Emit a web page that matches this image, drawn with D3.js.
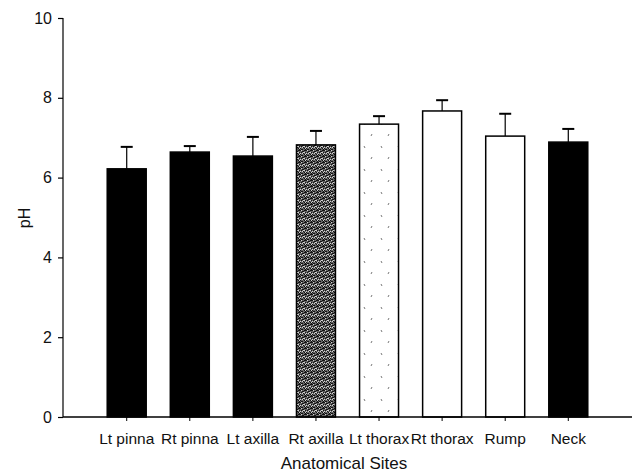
<!DOCTYPE html>
<html>
<head>
<meta charset="utf-8">
<script src="https://cdn.jsdelivr.net/npm/d3@7"></script>
<style>
  html, body { margin: 0; padding: 0; background: #fff; }
  svg { display: block; font-family: "Liberation Sans", Arial, sans-serif; }
</style>
</head>
<body>
<svg id="chart" width="634" height="473"></svg>
<script>
// Skin surface pH by anatomical site (mean with upper error bar)
const categories = ["Lt pinna", "Rt pinna", "Lt axilla", "Rt axilla", "Lt thorax", "Rt thorax", "Rump", "Neck"];
const meanPH = [6.22, 6.64, 6.54, 6.82, 7.34, 7.67, 7.04, 6.89];
const errorPH = [0.55, 0.15, 0.48, 0.35, 0.20, 0.27, 0.56, 0.33];
const yTicks = [0, 2, 4, 6, 8, 10];
const xTitle = "Anatomical Sites";
const yTitle = "pH";

const svg = d3.select("#chart");

// Fill style per bar
const fillStyle = ["url(#solid)", "url(#solid)", "url(#solid)", "url(#stipple)", "url(#speckle)", "#fff", "#fff", "url(#solid)"];

const defs = svg.append("defs");
defs.append("pattern").attr("id", "solid").attr("width", 4).attr("height", 4)
  .attr("patternUnits", "userSpaceOnUse")
  .append("rect").attr("width", 4).attr("height", 4).attr("fill", "#000");

// dense dither for the grey bar
const st = defs.append("pattern").attr("id", "stipple").attr("width", 6).attr("height", 6)
  .attr("patternUnits", "userSpaceOnUse");
st.append("rect").attr("width", 6).attr("height", 6).attr("fill", "#666");
const darkDots = [[0,0],[2,1],[4,0],[1,2],[3,3],[5,2],[0,4],[2,5],[4,4],[5,5],[1,5],[3,1],[5,0]];
const lightDots = [[1,0],[3,2],[5,4],[0,3],[2,3],[4,2]];
st.selectAll("rect.d").data(darkDots).join("rect").attr("class", "d")
  .attr("x", d => d[0]).attr("y", d => d[1]).attr("width", 1).attr("height", 1).attr("fill", "#111");
st.selectAll("rect.l").data(lightDots).join("rect").attr("class", "l")
  .attr("x", d => d[0]).attr("y", d => d[1]).attr("width", 1).attr("height", 1).attr("fill", "#d0d0d0");

// sparse specks for the light bar
const sp = defs.append("pattern").attr("id", "speckle").attr("width", 17).attr("height", 23)
  .attr("patternUnits", "userSpaceOnUse").attr("x", 3).attr("y", 5);
sp.append("rect").attr("width", 17).attr("height", 23).attr("fill", "#fff");
sp.append("path").attr("d", "M4,3 l1,2 M12,14 l-1,2").attr("stroke", "#555").attr("stroke-width", 0.8);

const x = d3.scaleBand().domain(categories).range([63, 632]).paddingInner(0.382).paddingOuter(0.701);
const y = d3.scaleLinear().domain([0, 10]).range([417, 18]);

// bars
svg.append("g").selectAll("rect").data(categories).join("rect")
  .attr("x", d => x(d))
  .attr("y", (d, i) => y(meanPH[i]))
  .attr("width", x.bandwidth())
  .attr("height", (d, i) => y(0) - y(meanPH[i]))
  .attr("fill", (d, i) => fillStyle[i])
  .attr("stroke", "#000")
  .attr("stroke-width", 1.5);

// error bars (upper only)
const eb = svg.append("g").attr("stroke", "#000");
eb.selectAll("line.v").data(categories).join("line").attr("class", "v")
  .attr("x1", d => x(d) + x.bandwidth() / 2).attr("x2", d => x(d) + x.bandwidth() / 2)
  .attr("y1", (d, i) => y(meanPH[i])).attr("y2", (d, i) => y(meanPH[i] + errorPH[i]))
  .attr("stroke-width", 1.2);
eb.selectAll("line.c").data(categories).join("line").attr("class", "c")
  .attr("x1", d => x(d) + x.bandwidth() / 2 - 6).attr("x2", d => x(d) + x.bandwidth() / 2 + 6)
  .attr("y1", (d, i) => y(meanPH[i] + errorPH[i])).attr("y2", (d, i) => y(meanPH[i] + errorPH[i]))
  .attr("stroke-width", 2);

// y axis
const yAxis = svg.append("g").attr("transform", "translate(63,0)")
  .call(d3.axisLeft(y).tickValues(yTicks).tickFormat(d3.format("d")).tickSize(5).tickPadding(6));
yAxis.select(".domain").attr("d", `M0,${y(10)}V${y(0)}`).attr("stroke-width", 1.2);
yAxis.selectAll("text").attr("font-size", 16).attr("fill", "#111").attr("font-family", "Liberation Sans, Arial, sans-serif");
yAxis.selectAll(".tick line").attr("stroke-width", 1.2);

// x axis
const xAxis = svg.append("g").attr("transform", `translate(0,${y(0)})`)
  .call(d3.axisBottom(x).tickSize(4).tickPadding(12));
xAxis.select(".domain").attr("d", "M63,0H632").attr("stroke-width", 1.5);
xAxis.selectAll("text").attr("font-size", 15.5).attr("fill", "#111").attr("font-family", "Liberation Sans, Arial, sans-serif");

// axis titles
svg.append("text").attr("x", 344).attr("y", 469).attr("text-anchor", "middle")
  .attr("font-size", 17).attr("fill", "#111").text(xTitle);
svg.append("text").attr("transform", "translate(30,218) rotate(-90)").attr("text-anchor", "middle")
  .attr("font-size", 16).attr("fill", "#111").text(yTitle);
</script>
</body>
</html>
